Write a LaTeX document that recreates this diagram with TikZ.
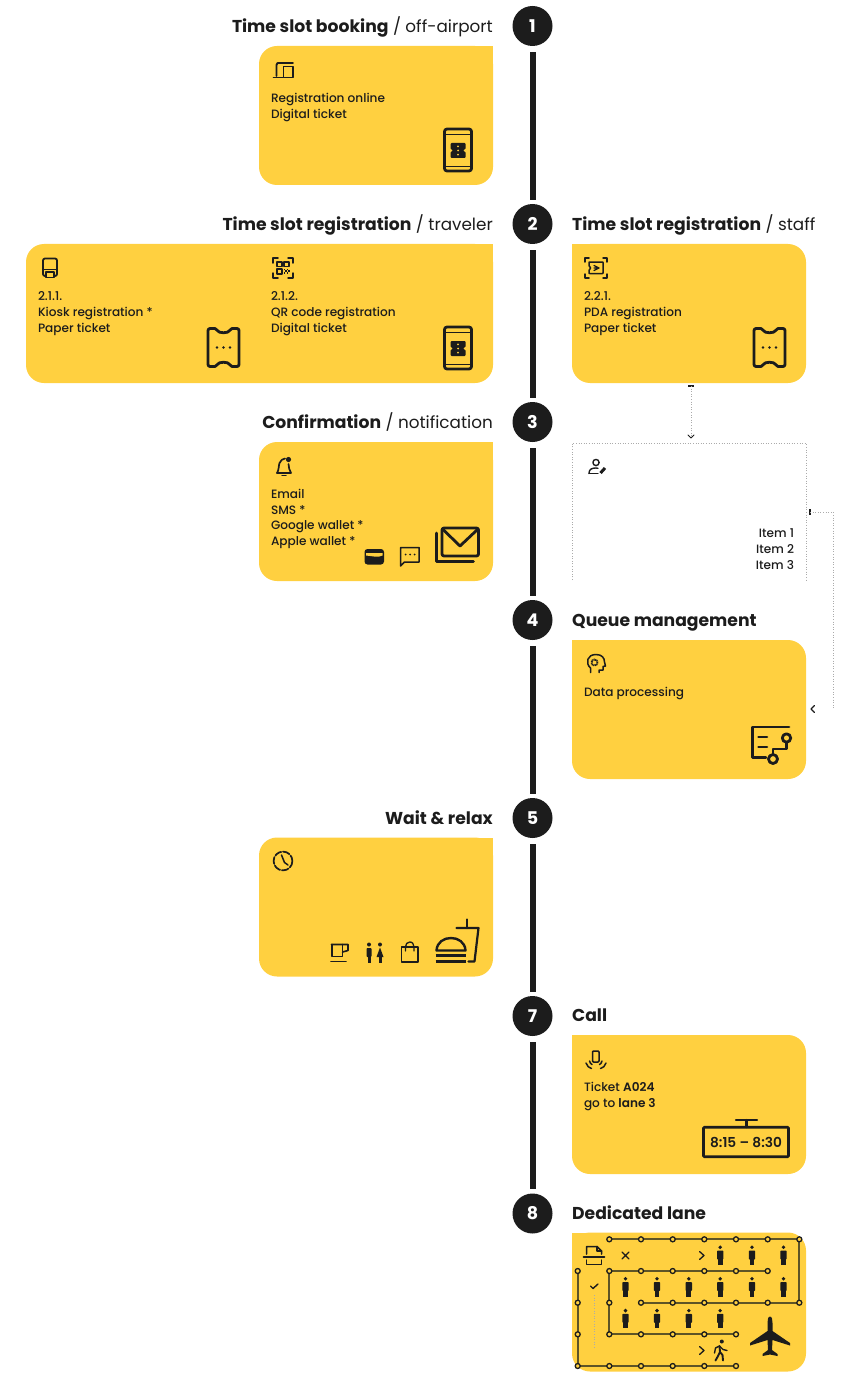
\documentclass[tikz,border=0pt]{standalone}
\usepackage{fontspec}
\setmainfont{Poppins}[BoldFont={Poppins SemiBold}]
\newfontfamily\medfont{Poppins Medium}[BoldFont={Poppins SemiBold}]
\newfontfamily\heavyfont{Poppins Bold}
\newcommand{\tb}[1]{{\fontsize{17.2}{20}\selectfont\heavyfont #1}}
\usetikzlibrary{arrows.meta}
\definecolor{cardy}{HTML}{FFD040}
\definecolor{ink}{HTML}{1C1C1C}
\definecolor{railc}{HTML}{5E5426}
\definecolor{dotc}{HTML}{ABABAB}
\tikzset{
 x=1pt,y=-1pt,
 cardbox/.style={fill=cardy,draw=none,rounded corners=18pt,inner sep=0pt,outer sep=0pt},
 stepdot/.style={circle,fill=ink,minimum size=40pt,inner sep=0pt,text=white,font=\fontsize{17.5}{17.5}\selectfont\heavyfont},
 rail/.style={draw=ink,line width=6pt,shorten >=4pt,shorten <=6pt},
 ttlL/.style={anchor=mid east,yshift=-4pt,inner sep=0pt,text=ink,font=\fontsize{16.8}{20}\selectfont},
 ttlR/.style={anchor=mid west,yshift=-4pt,inner sep=0pt,text=ink,font=\fontsize{16.8}{20}\selectfont},
 body/.style={anchor=north west,inner sep=0pt,outer sep=0pt,align=left,text=ink,font=\fontsize{12.1}{15.9}\selectfont\medfont},
 bodyR/.style={body,anchor=north east,align=right},
 ic/.style={draw=ink,line width=1.8pt,fill=none,line cap=round,line join=round},
 icb/.style={draw=ink,line width=2.8pt,fill=none,line cap=round,line join=round},
 ict/.style={draw=ink,line width=1.3pt,fill=none,line cap=round,line join=round},
 dotted line/.style={draw=dotc,line width=.8pt,dash pattern=on 1pt off 1.6pt},
 tickm/.style={draw=ink,line width=1.2pt},
 railline/.style={draw=railc,line width=2pt},
 stop/.style={circle,draw=ink,line width=1.3pt,fill=cardy,minimum size=5pt,inner sep=0pt},
}
\newcommand{\iPhone}[2]{\begin{scope}[shift={(#1,#2)}]
 \draw[icb,rounded corners=2.5pt] (0,0) rectangle (27,42);
 \draw[ict] (1,5.5)--(26,5.5) (1,37.5)--(26,37.5);
 \fill[ink,rounded corners=1pt] (6,14) rectangle (21,29);
 \fill[cardy] (6,21.5) circle (1.8) (21,21.5) circle (1.8);
 \fill[cardy] (13.5,17.3) circle (1) (13.5,21.5) circle (1) (13.5,25.7) circle (1);
\end{scope}}
\newcommand{\iTicket}[2]{\begin{scope}[shift={(#1,#2)}]
 \draw[icb,rounded corners=2pt] (0,0) -- (9,0) .. controls (10,5) and (21,5) .. (22,0) -- (31,0) -- (31,38) -- (22,38) .. controls (21,33) and (10,33) .. (9,38) -- (0,38) -- cycle;
 \fill[ink] (9,19) circle (1.4) (15.5,19) circle (1.4) (22,19) circle (1.4);
\end{scope}}
\newcommand{\iPerson}[2]{\begin{scope}[shift={(#1,#2)}]
 \fill[ink] (0,1.8) circle (1.9);
 \fill[ink,rounded corners=.8pt] (-3.2,5) rectangle (3.2,14);
 \fill[ink] (-2.4,12) rectangle (2.4,19.5);
\end{scope}}
\begin{document}
\begin{tikzpicture}
\useasboundingbox (0,0) rectangle (858,1380);
% step circles
\node[stepdot] (s1) at (532.5,26) {1};
\node[stepdot] (s2) at (532.5,224) {2};
\node[stepdot] (s3) at (532.5,422) {3};
\node[stepdot] (s4) at (532.5,620) {4};
\node[stepdot] (s5) at (532.5,818) {5};
\node[stepdot] (s7) at (532.5,1016) {7};
\node[stepdot] (s8) at (532.5,1213.5) {8};
\draw[rail] (s1) -- (s2);
\draw[rail] (s2) -- (s3);
\draw[rail] (s3) -- (s4);
\draw[rail] (s4) -- (s5);
\draw[rail] (s5) -- (s7);
\draw[rail] (s7) -- (s8);
% titles
\node[ttlL] (t1) at (493,26) {\tb{Time slot booking} / off-airport};
\node[ttlL] (t2) at (493,224) {\tb{Time slot registration} / traveler};
\node[ttlR] (t2b) at (572,224) {\tb{Time slot registration} / staff};
\node[ttlL] (t3) at (493,422) {\tb{Confirmation} / notification};
\node[ttlR] (t4) at (572,620) {\tb{Queue management}};
\node[ttlL] (t5) at (493,818) {\tb{Wait \& relax}};
\node[ttlR] (t7) at (572,1015) {\tb{Call}};
\node[ttlR] (t8) at (572,1213) {\tb{Dedicated lane}};
% cards
\node[cardbox,minimum width=234pt,minimum height=139pt] (c1) at (376,115.5) {};
\fill[cardy] (c1.north east) rectangle ++(-20,20);
\node[cardbox,minimum width=467pt,minimum height=139pt] (c2a) at (259.5,313.5) {};
\fill[cardy] (c2a.north east) rectangle ++(-20,20);
\node[cardbox,minimum width=234pt,minimum height=139pt] (c2b) at (689,313.5) {};
\fill[cardy] (c2b.north west) rectangle ++(20,20);
\node[cardbox,minimum width=234pt,minimum height=139pt] (c3) at (376,511.5) {};
\fill[cardy] (c3.north east) rectangle ++(-20,20);
\node[cardbox,minimum width=234pt,minimum height=139pt] (c4) at (689,709.5) {};
\fill[cardy] (c4.north west) rectangle ++(20,20);
\node[cardbox,minimum width=234pt,minimum height=139pt] (c5) at (376,907) {};
\fill[cardy] (c5.north east) rectangle ++(-20,20);
\node[cardbox,minimum width=234pt,minimum height=139pt] (c7) at (689,1104.5) {};
\fill[cardy] (c7.north west) rectangle ++(20,20);
\node[cardbox,minimum width=234pt,minimum height=139pt] (c8) at (689,1302) {};
\fill[cardy] (c8.north west) rectangle ++(20,20);
% card texts
\node[body] (x1) at (271,91.3) {\strut Registration online\\Digital ticket};
\node[body] (x2a) at (38,289.3) {\strut 2.1.1.\\Kiosk registration *\\Paper ticket};
\node[body] (x2b) at (271,289.3) {\strut 2.1.2.\\QR code registration\\Digital ticket};
\node[body] (x2c) at (584,289.3) {\strut 2.2.1.\\PDA registration\\Paper ticket};
\node[body] (x3) at (271,487) {\strut Email\\SMS *\\Google wallet *\\Apple wallet *};
\node[body] (x4) at (584,685) {\strut Data processing};
\node[body] (x7) at (584,1080.2) {\strut Ticket \textbf{A024}\\go to \textbf{lane 3}};
\node[bodyR] (xi) at (794,526.6) {\strut Item 1\\Item 2\\Item 3};
% dotted connectors
\coordinate (d1a) at (691,386);
\coordinate (d1b) at (691,436);
\draw[tickm] (688,386) -- (694,386);
\draw[dotted line] (d1a) -- (d1b);
\draw[ict,line width=1pt] (688,435) -- (691,438) -- (694,435);
\coordinate (bxa) at (572.5,580);
\coordinate (bxb) at (572.5,443);
\coordinate (bxc) at (806,443);
\coordinate (bxd) at (806,580);
\draw[dotted line] (bxa) -- (bxb) -- (bxc) -- (bxd);
\coordinate (d2a) at (810,512);
\coordinate (d2b) at (833,512);
\coordinate (d2c) at (833,708);
\draw[tickm] (810,509) -- (810,515);
\draw[dotted line] (d2a) -- (d2b) -- (d2c);
\draw[ict,line width=1.2pt] (814.5,705.5) -- (811,709) -- (814.5,712.5);
% card 1 icons
\draw[ic] (276.5,76) -- (276.5,65) -- (277.5,63) -- (293,63);
\draw[ic] (273.5,77.5) -- (283,77.5);
\draw[ic] (283.5,66.5) rectangle (293,77.5);
\iPhone{444.5}{129}
% card 2 icons
\draw[ic,rounded corners=2pt] (43,258.5) rectangle (57,276);
\draw[ict] (43,269.5) -- (57,269.5);
\draw[ict,fill=cardy] (46,272) rectangle (54,277.5);
\begin{scope}[shift={(273,258)}]
 \draw[ict,line width=1.5pt] (0,5)--(0,0)--(5,0) (15,0)--(20,0)--(20,5) (0,15)--(0,20)--(5,20) (15,20)--(20,20)--(20,15);
 \draw[ict] (4,4) rectangle (9,8.5) (11,4) rectangle (16,8.5) (4,11) rectangle (9,16);
 \foreach \a/\b in {11.5/11.5,14.5/11.5,13/13,16/13,11.5/15,14.5/15}{\fill[ink] (\a-.9,\b-.9) rectangle (\a+.9,\b+.9);}
\end{scope}
\iPhone{444.5}{327}
\iTicket{208}{328.5}
\begin{scope}[shift={(585,258)}]
 \draw[ict,line width=1.5pt] (0,4)--(0,0)--(4,0) (18,0)--(22,0)--(22,4) (0,16)--(0,20)--(4,20) (18,20)--(22,20)--(22,16);
 \draw[ic,line width=1.5pt,rounded corners=.5pt] (4,4) -- (18,4) -- (18,15.5) -- (4,15.5) -- (4,12) .. controls (6,11) and (6,9) .. (4,8) -- cycle;
 \draw[ict] (9,7.5) -- (14,10) -- (9,12.5) (9,10) -- (14,10);
\end{scope}
\iTicket{754}{328.5}
% user edit icon
\draw[ict,line width=1.4pt] (596,462.5) circle (3.1);
\draw[ict,line width=1.4pt] (589,473.5) .. controls (589,469) and (592,468) .. (596,468) -- (598,468.3);
\draw[ict,line width=1.4pt] (589,473.5) -- (598,473.5);
\draw[ink,line width=3pt] (600.5,473) -- (605,468);
% card 3 icons
\draw[ic,line width=1.7pt] (277,473) .. controls (279,470) and (278.5,466) .. (279.5,463) .. controls (280.5,460) and (283,459) .. (285,458.5);
\draw[ic,line width=1.7pt] (288.5,464) .. controls (289,467) and (289,470.5) .. (291,473) -- (277,473);
\draw[ic,line width=1.5pt] (282,475.5) -- (286,475.5);
\fill[ink] (288.5,459.5) circle (2.6);
\fill[ink,rounded corners=3pt] (364.5,549) rectangle (384,564.5);
\fill[cardy] (366,555.5) .. controls (372,556) and (378,558) .. (382.5,555.5) -- (382.5,553) -- (366,553) -- cycle;
\draw[ic,line width=1.5pt] (400.5,547.5) -- (419,547.5) -- (419,562) -- (404.5,562) -- (400.5,566) -- cycle;
\fill[ink] (405.5,554.5) circle (1) (410,554.5) circle (1) (414.5,554.5) circle (1);
\draw[icb,rounded corners=2pt] (442,528) rectangle (478.5,556);
\draw[icb] (443,529.5) -- (460,546) -- (477.5,529.5);
\draw[icb] (436.5,533) -- (436.5,561.5) -- (473.5,561.5);
% card 4 icons
\draw[ict,line width=1.5pt] (590.5,672.5) -- (590.5,668) .. controls (585,663) and (587,654.5) .. (596,654.5) .. controls (602,654.5) and (604.5,658) .. (604.5,662) -- (605.5,666) -- (603,666.5) -- (603,670) -- (599,670) -- (599,672.5);
\draw[ink,line width=1.8pt,dash pattern=on 1pt off .6pt] (594.5,662.5) circle (3);
\draw[icb] (789,727) -- (752.5,727) -- (752.5,757.5) -- (766,757.5);
\draw[icb,line width=2.6pt] (758.5,737) -- (767,737) (758.5,747) -- (767,747);
\draw[icb,line width=2.6pt] (786.5,742.5) -- (786.5,749) -- (773,749) -- (773,754.5);
\draw[icb,line width=2.8pt] (786.5,738) circle (4.2);
\draw[icb,line width=2.8pt] (773,759) circle (4.5);
% card 5 icons
\draw[ic,line width=1.7pt,dash pattern=on 7pt off 1.8pt] (283,861) circle (9.4);
\draw[ic,line width=1.5pt] (281.5,855) -- (284.5,862.5) -- (288,865);
\draw[ic,line width=1.6pt] (331.5,944.5) -- (343,944.5) -- (348,944.5) -- (348,950.5) -- (342.5,952);
\draw[ic,line width=1.6pt] (332,944.5) -- (332,956.5) -- (342.5,956.5) -- (342.5,944.5);
\draw[ic,line width=1.6pt] (331,961.5) -- (346,961.5);
\fill[ink] (369,944.5) circle (2) (380,944.5) circle (2);
\fill[ink,rounded corners=.8pt] (366.5,948) rectangle (371.5,957);
\fill[ink] (367.5,955) rectangle (370.5,962.5);
\fill[ink] (380,947.5) -- (383.5,957) -- (376.5,957) -- cycle;
\fill[ink] (378.5,956) rectangle (381.5,962.5);
\draw[ic,line width=1.6pt] (401.5,947) rectangle (418,962);
\draw[ic,line width=1.3pt] (405.5,951) .. controls (405.5,943) and (407,942) .. (409.7,942) .. controls (412.5,942) and (414,943) .. (414,951);
\draw[icb,line width=2.4pt] (436.5,950.5) .. controls (437,942) and (444,938) .. (451,938) .. controls (458,938) and (465,942) .. (465.5,950.5) -- cycle;
\draw[icb,line cap=butt] (435.5,955.5) -- (466,955.5) (435.5,961.5) -- (466,961.5);
\draw[ic,line width=2.2pt] (456.5,928) -- (478.5,928) -- (474.5,961.5) -- (468.5,961.5);
\draw[ic,line width=2.2pt] (467,919.5) -- (467,928);
% card 7 icons
\draw[ic,line width=1.5pt,rounded corners=1pt] (592.5,1051) rectangle (599,1062);
\draw[ic,line width=1.5pt] (589.5,1061) .. controls (590,1063) and (591,1064) .. (592,1064.5);
\draw[ic,line width=1.5pt] (586,1063) .. controls (587,1066) and (589,1068) .. (591.5,1068.5);
\draw[ic,line width=1.5pt] (602,1061) .. controls (601.5,1063) and (600.5,1064) .. (599.5,1064.5);
\draw[ic,line width=1.5pt] (606,1063) .. controls (605,1066) and (603,1068) .. (600.5,1068.5);
\draw[ic,line width=2.4pt] (736,1120) -- (757,1120);
\draw[ic,line width=2.4pt] (746.5,1120) -- (746.5,1127);
\node[draw=ink,line width=2.6pt,rounded corners=1pt,minimum width=85pt,minimum height=29.5pt,inner sep=0pt,text=ink,font=\fontsize{13.7}{16}\selectfont\bfseries] (disp) at (746,1142) {8:15 – 8:30};
% card 8 - lane rails
\draw[railline] (609.3,1239.3) -- (799.3,1239.3) -- (799.3,1302.7) -- (641,1302.7);
\draw[railline] (767.7,1271) -- (609.3,1271) -- (609.3,1334.3) -- (736,1334.3);
\draw[railline] (577.7,1271) -- (577.7,1366) -- (736,1366);
\foreach \px/\py in {609.3/1239.3,641/1239.3,672.7/1239.3,704.3/1239.3,736/1239.3,767.7/1239.3,799.3/1239.3,
 609.3/1271,641/1271,672.7/1271,704.3/1271,736/1271,767.7/1271,
 641/1302.7,672.7/1302.7,704.3/1302.7,736/1302.7,767.7/1302.7,799.3/1302.7,609.3/1302.7,
 609.3/1334.3,641/1334.3,672.7/1334.3,704.3/1334.3,736/1334.3,
 577.7/1271,577.7/1302.7,577.7/1334.3,577.7/1366,609.3/1366,641/1366,672.7/1366,704.3/1366,736/1366}
 {\node[stop] at (\px,\py) {};}
\foreach \px in {720.2,752,783.5} {\iPerson{\px}{1245.5}}
\foreach \px in {625.5,657,688.8,720.2,752,783.5} {\iPerson{\px}{1277}}
\foreach \px in {625.5,657,688.8,720.2} {\iPerson{\px}{1308.8}}
\draw[ic,line width=1.3pt] (699.5,1251.5) -- (704,1255.5) -- (699.5,1259.5);
\draw[ic,line width=1.3pt] (699.5,1346.5) -- (704,1350.5) -- (699.5,1354.5);
\draw[ic,line width=1.2pt] (622,1252) -- (629,1259) (629,1252) -- (622,1259);
\draw[ic,line width=1.4pt] (590.5,1286) -- (593,1288.5) -- (598,1284);
\draw[dotted line] (594,1295) -- (594,1348);
\draw[ic,line width=1.5pt] (586.5,1254) -- (586.5,1246.5) -- (597,1246.5) -- (601.5,1251) -- (601.5,1254);
\draw[ic,line width=1.5pt] (597,1246.5) -- (597,1251) -- (601.5,1251);
\draw[ic,line width=1.7pt] (583.5,1257) -- (604.5,1257);
\draw[ic,line width=1.5pt] (586.5,1260) -- (586.5,1264.5) -- (601.5,1264.5) -- (601.5,1260);
% walker
\fill[ink] (721.8,1341.5) circle (2);
\draw[ic,line width=1.9pt] (719.5,1346) -- (720,1352) -- (722.5,1355) -- (723,1360.5);
\draw[ic,line width=1.9pt] (720,1352) -- (718,1356) -- (715.5,1360.5);
\draw[ic,line width=1.4pt] (719.5,1346) -- (715.5,1348) -- (714.5,1353);
\draw[ic,line width=1.4pt] (719.5,1346) -- (723,1349.5) -- (727,1350.5);
% plane
\fill[ink] (770,1316.5) .. controls (772,1316.5) and (772.5,1320) .. (772.5,1323) -- (772.5,1331) -- (790,1343) -- (790,1345.5) -- (772.5,1340) -- (772,1350) -- (777.5,1354) -- (777.5,1356) -- (770,1354.5) -- (762.5,1356) -- (762.5,1354) -- (768,1350) -- (767.5,1340) -- (750,1345.5) -- (750,1343) -- (767.5,1331) -- (767.5,1323) .. controls (767.5,1320) and (768,1316.5) .. (770,1316.5) -- cycle;
\end{tikzpicture}
\end{document}
